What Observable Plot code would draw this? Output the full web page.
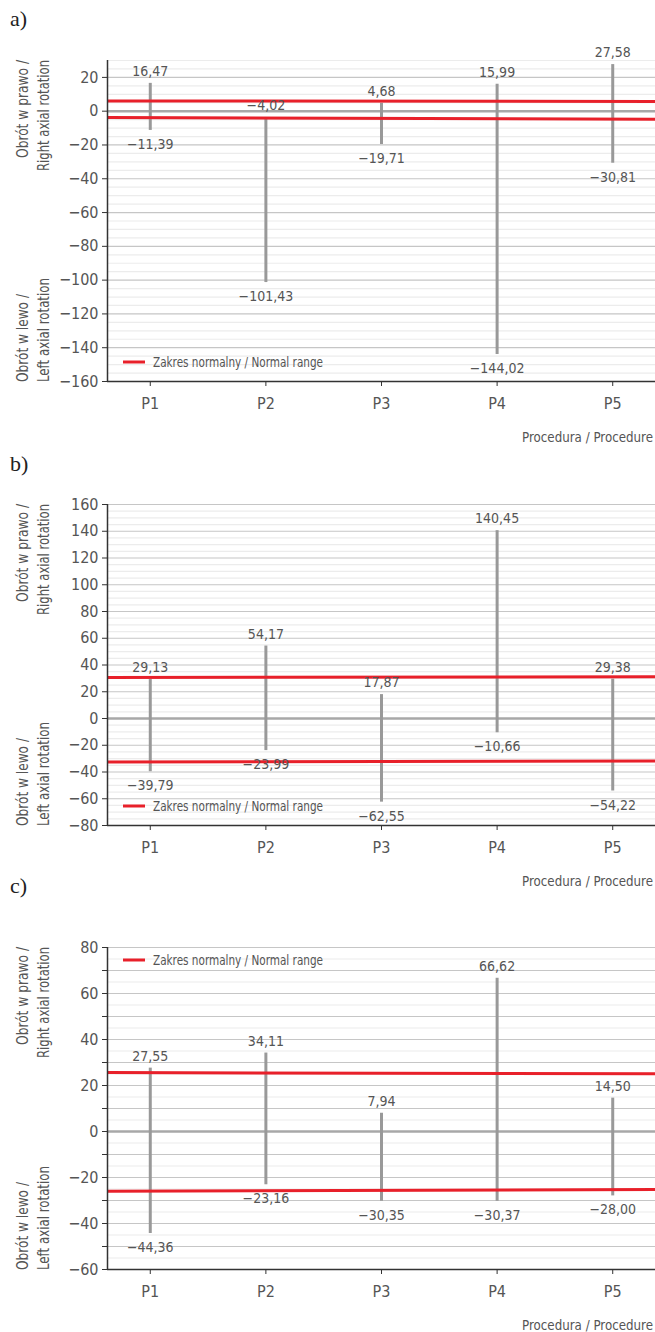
<!DOCTYPE html>
<html><head><meta charset="utf-8">
<script src="https://cdn.jsdelivr.net/npm/d3@7"></script>
<script src="https://cdn.jsdelivr.net/npm/@observablehq/plot@0.6"></script>
<style>
html,body{margin:0;padding:0;background:#fff;}
#root{position:relative;width:655px;height:1332px;overflow:hidden;}
.panel{position:absolute;left:0;}
#overlay{position:absolute;left:0;top:0;pointer-events:none;}
</style></head>
<body><div id="root"></div>
<script>
// ---- data ----
const procedures = ["P1", "P2", "P3", "P4", "P5"];
const aMax = [16.47, -4.02, 4.68, 15.99, 27.58];
const aMin = [-11.39, -101.43, -19.71, -144.02, -30.81];
const bMax = [29.13, 54.17, 17.87, 140.45, 29.38];
const bMin = [-39.79, -23.99, -62.55, -10.66, -54.22];
const cMax = [27.55, 34.11, 7.94, 66.62, 14.50];
const cMin = [-44.36, -23.16, -30.35, -30.37, -28.00];
// normal range lines: [value at left edge, value at right edge]
const aNormalUpper = [6.1, 5.7], aNormalLower = [-3.7, -4.8];
const bNormalUpper = [30.6, 31.2], bNormalLower = [-32.5, -31.8];
const cNormalUpper = [25.6, 25.1], cNormalLower = [-26.0, -25.2];
const aTicks = [20, 0, -20, -40, -60, -80, -100, -120, -140, -160];
const bTicks = [160, 140, 120, 100, 80, 60, 40, 20, 0, -20, -40, -60, -80];
const cTicks = [80, 60, 40, 20, 0, -20, -40, -60];
const cMidTicks = [70, 50, 30, 10, -10, -30, -50];
const panelLetters = ["a)", "b)", "c)"];
const yTitleRight = ["Obrót w prawo /", "Right axial rotation"];
const yTitleLeft = ["Obrót w lewo /", "Left axial rotation"];
const xTitle = "Procedura / Procedure";
const legendText = "Zakres normalny / Normal range";

const FONT = '"Liberation Sans Narrow","DejaVu Sans Condensed","Roboto Condensed",sans-serif';
const TEXT = "#555";
const RED = "#e8202a";
const xDomain = [0.63, 5.37];

function fmt(v) {
  const s = Math.abs(v).toFixed(2).replace(".", ",");
  return v < 0 ? "\u2212" + s : s;
}

const panels = [
  {max: aMax, min: aMin, up: aNormalUpper, lo: aNormalLower, ticks: aTicks, mid: [], domain: [-160, 30],
   top: 0, height: 450, mt: 60, mb: 69, legend: "bottom"},
  {max: bMax, min: bMin, up: bNormalUpper, lo: bNormalLower, ticks: bTicks, mid: [], domain: [-80, 160],
   top: 450, height: 445, mt: 54, mb: 70, legend: "bottom"},
  {max: cMax, min: cMin, up: cNormalUpper, lo: cNormalLower, ticks: cTicks, mid: cMidTicks, domain: [-60, 80],
   top: 895, height: 437, mt: 52, mb: 63, legend: "top"}
];

const root = document.getElementById("root");
const ns = "http://www.w3.org/2000/svg";
const overlay = document.createElementNS(ns, "svg");
overlay.setAttribute("id", "overlay");
overlay.setAttribute("width", 655);
overlay.setAttribute("height", 1332);

function addText(str, x, y, opts = {}) {
  const t = document.createElementNS(ns, "text");
  t.textContent = str;
  t.setAttribute("x", x); t.setAttribute("y", y);
  t.setAttribute("fill", opts.fill || TEXT);
  t.setAttribute("font-family", opts.family || FONT);
  t.setAttribute("font-size", opts.size || 16);
  t.setAttribute("text-anchor", opts.anchor || "start");
  t.setAttribute("dominant-baseline", "central");
  if (opts.len) { t.setAttribute("textLength", opts.len); t.setAttribute("lengthAdjust", "spacingAndGlyphs"); }
  if (opts.rotate) t.setAttribute("transform", `rotate(-90 ${x} ${y})`);
  overlay.appendChild(t);
}
function addLine(x1, y1, x2, y2, stroke, w) {
  const l = document.createElementNS(ns, "line");
  l.setAttribute("x1", x1); l.setAttribute("y1", y1); l.setAttribute("x2", x2); l.setAttribute("y2", y2);
  l.setAttribute("stroke", stroke); l.setAttribute("stroke-width", w);
  overlay.appendChild(l);
}

panels.forEach((p, k) => {
  const rows = procedures.map((name, i) => ({i: i + 1, name, max: p.max[i], min: p.min[i]}));
  const normal = [{l: p.up[0], r: p.up[1]}, {l: p.lo[0], r: p.lo[1]}];
  const minor = d3.range(p.domain[0], p.domain[1] + 0.1, 5).filter(v => v % 20 !== 0 && !p.mid.includes(v));
  const major = p.ticks.filter(v => v !== 0 && v !== p.domain[0]).concat(p.mid);
  const chart = Plot.plot({
    width: 655, height: p.height,
    marginLeft: 107, marginRight: 0, marginTop: p.mt, marginBottom: p.mb,
    style: {fontFamily: FONT, color: TEXT, background: "transparent"},
    x: {domain: xDomain, axis: null, label: null},
    y: {domain: p.domain, axis: null, label: null},
    marks: [
      Plot.ruleY(minor, {stroke: "#ececec", strokeWidth: 1.2}),
      Plot.ruleY(major, {stroke: "#c6c6c6", strokeWidth: 1.2}),
      Plot.ruleY([0], {stroke: "#a8a8a8", strokeWidth: 2.5}),
      Plot.ruleX(rows, {x: "i", y1: "min", y2: "max", stroke: "#999", strokeWidth: 3}),
      Plot.link(normal, {x1: () => xDomain[0], x2: () => xDomain[1], y1: "l", y2: "r", stroke: RED, strokeWidth: 3}),
      Plot.text(rows, {x: "i", y: "max", text: d => fmt(d.max), dy: -12, fontSize: 14, fill: TEXT}),
      Plot.text(rows, {x: "i", y: "min", text: d => fmt(d.min), dy: 14, fontSize: 14, fill: TEXT}),
      Plot.axisY(p.ticks, {label: null, tickSize: 5, tickPadding: 4, fontSize: 16, fill: TEXT, stroke: "#333",
        tickFormat: v => v < 0 ? "\u2212" + Math.abs(v) : String(v)}),
      Plot.axisY(p.mid, {label: null, tickSize: 5, tickFormat: () => "", stroke: "#333"}),
      Plot.axisX([1, 2, 3, 4, 5], {label: null, tickSize: 5, tickPadding: 11, fontSize: 16, fill: TEXT, stroke: "#333",
        tickFormat: v => procedures[v - 1]}),
      Plot.ruleX([xDomain[0]], {stroke: "#333", strokeWidth: 1.5}),
      Plot.ruleY([p.domain[0]], {stroke: "#333", strokeWidth: 1.5})
    ]
  });
  const div = document.createElement("div");
  div.className = "panel";
  div.style.top = p.top + "px";
  div.appendChild(chart);
  root.appendChild(div);

  const plotTop = p.top + p.mt;
  const plotBottom = p.top + p.height - p.mb;
  addText(panelLetters[k], 10, p.top + (k === 0 ? 18 : k === 1 ? 13 : -10), {family: '"Liberation Serif","DejaVu Serif",serif', size: 22, fill: "#222"});
  addText(yTitleRight[0], 22, plotTop, {rotate: true, anchor: "end", size: 16, len: 98});
  addText(yTitleRight[1], 43, plotTop, {rotate: true, anchor: "end", size: 16, len: 111});
  addText(yTitleLeft[0], 22, plotBottom + 1, {rotate: true, anchor: "start", size: 16, len: 88});
  addText(yTitleLeft[1], 43, plotBottom + 1, {rotate: true, anchor: "start", size: 16, len: 104});
  addText(xTitle, 522, plotBottom + 56, {anchor: "start", size: 13.5, len: 131});
  const ly = p.legend === "bottom" ? plotBottom - 19 : plotTop + 13;
  addLine(123, ly, 145, ly, RED, 3);
  addText(legendText, 153, ly, {size: 14.5, len: 170});
});
root.appendChild(overlay);
</script></body></html>
